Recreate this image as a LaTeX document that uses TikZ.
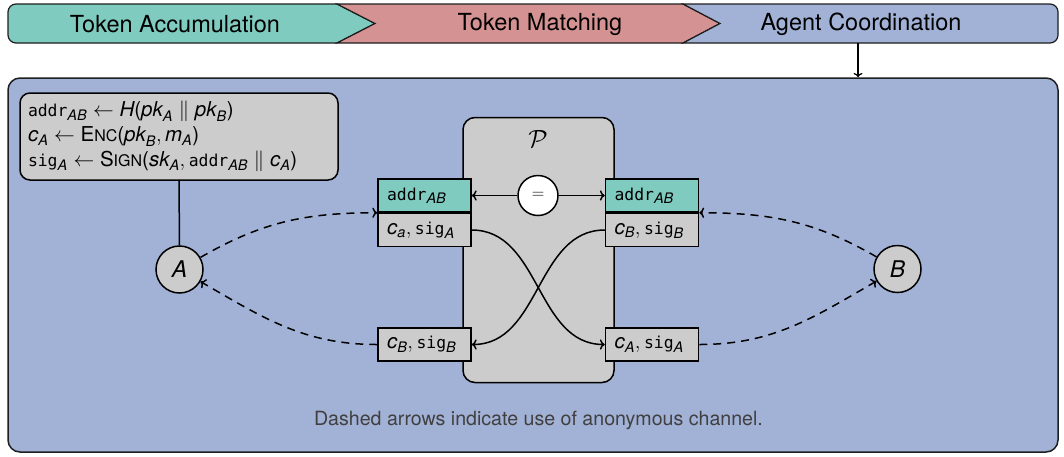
\documentclass[tikz,border=0pt]{standalone}
\usepackage{amsmath}
\usepackage{fontspec}
\setmainfont{TeX Gyre Heros}
\setmonofont[Scale=0.8]{DejaVu Sans Mono}
\usetikzlibrary{arrows.meta,calc}
\definecolor{tealc}{RGB}{128,203,191}
\definecolor{redc}{RGB}{212,146,146}
\definecolor{bluec}{RGB}{162,177,214}
\definecolor{grayc}{RGB}{204,204,204}
\definecolor{capc}{RGB}{64,64,64}
\definecolor{edgec}{RGB}{30,30,30}
\newcommand\iv[1]{\textit{#1}}
\newcommand\tv[1]{\texttt{#1}}
\newcommand\sbs[1]{_{\text{\fontsize{14.5}{14.5}\selectfont\itshape #1}}}
\newcommand\lpar{\text{(}}
\newcommand\rpar{\text{)}}
\newcommand\addrAB{\tv{addr}\sbs{AB}}
\newcommand\fsc[2]{\text{#1{\fontsize{16}{16}\selectfont #2}}}
\tikzset{
  barseg/.style={draw=edgec, line width=1.2pt},
  bartext/.style={font=\fontsize{23.5}{23.5}\selectfont, text=black},
  cell/.style={draw=black, line width=1.5pt, minimum height=33pt, text width=75pt,
    align=left, inner xsep=9pt, inner ysep=0pt, font=\fontsize{20.5}{22}\selectfont},
  agent/.style={circle, draw=black, line width=1.5pt, fill=grayc, minimum size=47pt,
    inner sep=0pt, font=\fontsize{23}{23}\selectfont\itshape},
  anon/.style={dash pattern=on 8pt off 6pt, line width=1.5pt},
  solid arrow/.style={line width=1.5pt, ->},
}
\begin{document}
\begin{tikzpicture}[x=1pt,y=1pt]
\useasboundingbox (0,0) rectangle (1064,-456);
% top bar
\path[barseg, fill=tealc] (337,-4) -- (16,-4) arc[start angle=90, end angle=180, radius=8]
  -- (8,-35) arc[start angle=180, end angle=270, radius=8] -- (337,-43) -- (375,-23.5) -- cycle;
\path[barseg, fill=redc] (337,-4) -- (683,-4) -- (720,-23.5) -- (683,-43) -- (337,-43) -- (375,-23.5) -- cycle;
\path[barseg, fill=bluec] (683,-4) -- (1050,-4) arc[start angle=90, end angle=0, radius=8]
  -- (1058,-35) arc[start angle=0, end angle=-90, radius=8] -- (683,-43) -- (720,-23.5) -- cycle;
\node[bartext] (t1) at (175,-24) {Token Accumulation};
\node[bartext] (t2) at (540,-24) {Token Matching};
\node[bartext] (t3) at (861,-24) {Agent Coordination};
\coordinate (barpt) at (858,-43);
% panel
\node[draw=edgec, line width=1.5pt, fill=bluec, rounded corners=12pt, minimum width=1050pt,
  minimum height=374pt, inner sep=0pt] (panel) at (533,-265) {};
\draw[line width=1.2pt, ->] (barpt) -- (barpt |- panel.north);
% formula box
\node[draw=black, line width=1.5pt, fill=grayc, rounded corners=10pt, minimum height=87pt,
  text width=302pt, inner xsep=8pt, align=left, font=\fontsize{20.5}{25}\selectfont] (fbox) at (179,-136.5)
  {$\addrAB \leftarrow \iv{H}\lpar\iv{pk}\sbs{A} \mathrel{\|} \iv{pk}\sbs{B}\rpar$\\
   $\iv{c}\sbs{A} \leftarrow \fsc{E}{NC}\lpar\iv{pk}\sbs{B}, \iv{m}\sbs{A}\rpar$\\
   $\tv{sig}\sbs{A} \leftarrow \fsc{S}{IGN}\lpar\iv{sk}\sbs{A}, \addrAB \mathrel{\|} \iv{c}\sbs{A}\rpar$};
% P box
\node[draw=black, line width=1.5pt, fill=grayc, rounded corners=12pt, minimum width=151pt,
  minimum height=265pt, inner sep=0pt] (P) at (538.5,-250) {};
\node[font=\fontsize{28}{28}\selectfont] (Plabel) at (538,-139) {$\mathcal{P}$};
% cells
\node[cell, fill=tealc] (laddr) at (424.5,-195.5) {$\addrAB$};
\node[cell, fill=grayc, anchor=north] (lc) at (laddr.south) {$\iv{c}\sbs{a}, \tv{sig}\sbs{A}$};
\node[cell, fill=tealc] (raddr) at (652,-195.5) {$\addrAB$};
\node[cell, fill=grayc, anchor=north] (rc) at (raddr.south) {$\iv{c}\sbs{B}, \tv{sig}\sbs{B}$};
\node[cell, fill=grayc] (lb) at (424.5,-344.5) {$\iv{c}\sbs{B}, \tv{sig}\sbs{B}$};
\node[cell, fill=grayc] (rb) at (652,-344.5) {$\iv{c}\sbs{A}, \tv{sig}\sbs{A}$};
% equality
\node[circle, draw=black, line width=1.5pt, fill=white, minimum size=40pt, inner sep=0pt,
  font=\fontsize{18}{18}\selectfont] (eq) at (538,-195.5) {$=$};
\draw[solid arrow] (eq) -- (laddr);
\draw[solid arrow] (eq) -- (raddr);
\draw[solid arrow] (lc.east) to[out=0, in=180] (rb.west);
\draw[solid arrow] (rc.west) to[out=180, in=0] (lb.east);
% agents
\node[agent] (A) at (179.5,-269.5) {A};
\node[agent] (B) at (897.5,-269) {B};
\draw[line width=1.5pt] (fbox.south) -- (A.north);
\draw[anon, ->] (A) to[out=30, in=180] (laddr.south west);
\draw[anon, ->] (lb.west) to[out=180, in=-30] (A);
\draw[anon, ->] (B) to[out=150, in=0] (raddr.south east);
\draw[anon, ->] (rb.east) to[out=0, in=210] (B);
% caption
\node[text=capc, font=\fontsize{19.6}{19.6}\selectfont] (cap) at (538.5,-420)
  {Dashed arrows indicate use of anonymous channel.};
\end{tikzpicture}
\end{document}
